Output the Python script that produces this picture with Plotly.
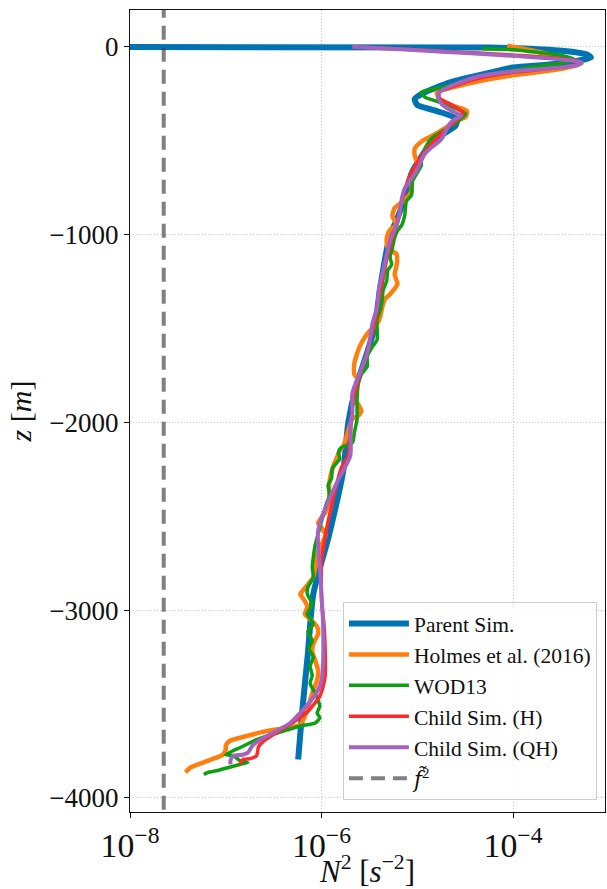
import plotly.graph_objects as go

# Buoyancy frequency profiles N^2(z)
parent_n2 = [1e-12, 5.6e-5, 3.0e-4, 5.9e-4, 6.5e-4, 4.3e-4, 2.4e-4, 1.0e-4, 4.8e-5, 2.2e-5,
             1.2e-5, 9.4e-6, 1.0e-5, 1.6e-5, 2.6e-5, 2.5e-5, 1.7e-5, 1.2e-5, 8.7e-6, 7.4e-6,
             6.1e-6, 5.2e-6, 4.1e-6, 3.6e-6, 2.9e-6, 2.3e-6, 1.9e-6, 1.7e-6, 1.2e-6, 8.2e-7,
             7.2e-7, 6.3e-7, 5.7e-7]
parent_z = [0, -5, -21, -42, -58, -79, -95, -111, -148, -190,
            -243, -279, -311, -343, -385, -422, -480, -559, -675, -807,
            -923, -1002, -1281, -1492, -1650, -1808, -2003, -2246, -2599, -2915,
            -3232, -3532, -3796]

holmes_n2 = [8.7e-5, 2.5e-4, 4.1e-4, 5.2e-4, 3.0e-4, 1.0e-4, 4.4e-5, 2.4e-5, 1.6e-5, 1.7e-5,
             2.4e-5, 3.3e-5, 3.2e-5, 2.6e-5, 1.7e-5, 1.1e-5, 9.4e-6, 9.4e-6, 1.0e-5, 8.7e-6,
             8.7e-6, 7.4e-6, 5.8e-6, 5.5e-6, 6.1e-6, 5.2e-6, 4.8e-6, 4.9e-6, 6.1e-6, 6.1e-6,
             5.8e-6, 6.2e-6, 5.2e-6, 4.6e-6, 4.3e-6, 4.1e-6, 3.8e-6, 3.0e-6, 2.5e-6, 2.2e-6,
             2.2e-6, 2.4e-6, 2.1e-6, 2.4e-6, 2.6e-6, 2.4e-6, 2.1e-6, 1.7e-6, 1.6e-6, 1.3e-6,
             1.2e-6, 1.2e-6, 1.1e-6, 9.2e-7, 1.0e-6, 1.1e-6, 1.0e-6, 9.0e-7, 8.6e-7, 8.2e-7,
             7.2e-7, 6.3e-7, 6.0e-7, 6.7e-7, 7.1e-7, 6.7e-7, 8.0e-7, 9.0e-7, 9.2e-7, 8.2e-7,
             8.0e-7, 8.6e-7, 9.2e-7, 9.0e-7, 8.2e-7, 7.6e-7, 7.1e-7, 6.0e-7, 4.4e-7, 2.7e-7,
             1.7e-7, 1.1e-7, 1.0e-7, 1.0e-7, 9.3e-8, 7.0e-8, 5.1e-8, 4.3e-8, 3.8e-8]
holmes_z = [5, -42, -69, -90, -121, -153, -185, -216, -243, -279,
            -316, -343, -374, -395, -453, -506, -543, -580, -622, -717,
            -770, -817, -859, -902, -949, -975, -1017, -1070, -1107, -1160,
            -1213, -1265, -1318, -1344, -1387, -1439, -1476, -1529, -1597, -1687,
            -1745, -1771, -1877, -1903, -1940, -1966, -1982, -2125, -2140, -2246,
            -2335, -2425, -2478, -2536, -2562, -2599, -2652, -2705, -2773, -2826,
            -2863, -2900, -2915, -2952, -2984, -3021, -3058, -3089, -3126, -3179,
            -3221, -3269, -3321, -3374, -3427, -3480, -3532, -3611, -3627, -3643,
            -3669, -3696, -3722, -3743, -3770, -3796, -3822, -3838, -3864]

wod_n2 = [4.8e-5, 1.0e-4, 1.9e-4, 3.2e-4, 4.4e-4, 3.0e-4, 1.5e-4, 4.4e-5, 1.9e-5, 1.1e-5,
          1.2e-5, 1.7e-5, 2.6e-5, 3.2e-5, 2.6e-5, 2.0e-5, 1.4e-5, 1.2e-5, 1.1e-5, 1.1e-5,
          8.9e-6, 8.7e-6, 7.7e-6, 7.4e-6, 6.9e-6, 6.2e-6, 5.8e-6, 5.5e-6, 5.2e-6, 5.4e-6,
          4.9e-6, 4.8e-6, 4.4e-6, 4.3e-6, 4.1e-6, 3.8e-6, 3.8e-6, 3.4e-6, 3.0e-6, 3.0e-6,
          2.5e-6, 2.4e-6, 2.35e-6, 2.35e-6, 2.35e-6, 2.2e-6, 2.1e-6, 1.6e-6, 1.5e-6, 1.55e-6,
          1.3e-6, 1.27e-6, 1.17e-6, 1.22e-6, 1.14e-6, 1.04e-6, 9.6e-7, 8.6e-7, 8.2e-7, 8.0e-7,
          8.2e-7, 7.2e-7, 7.1e-7, 8.0e-7, 7.1e-7, 8.2e-7, 7.2e-7, 8.0e-7, 7.4e-7, 8.2e-7,
          7.6e-7, 8.0e-7, 7.6e-7, 8.6e-7, 9.2e-7, 9.6e-7, 9.0e-7, 9.6e-7, 8.6e-7, 6.0e-7,
          4.4e-7, 3.5e-7, 2.7e-7, 2.1e-7, 1.8e-7, 1.4e-7, 1.2e-7, 1.0e-7, 1.2e-7, 1.4e-7,
          1.7e-7, 1.4e-7, 1.07e-7, 8.2e-8, 6.5e-8, 5.9e-8]
wod_z = [-11, -16, -32, -47, -69, -90, -111, -163, -216, -243,
         -269, -295, -332, -358, -401, -438, -490, -543, -596, -633,
         -717, -791, -822, -896, -949, -981, -1017, -1070, -1123, -1160,
         -1191, -1244, -1297, -1350, -1402, -1455, -1561, -1597, -1650, -1703,
         -1756, -1808, -1877, -1930, -1982, -2056, -2109, -2135, -2162, -2193,
         -2246, -2299, -2335, -2388, -2425, -2494, -2562, -2652, -2720, -2773,
         -2826, -2878, -2915, -2968, -3021, -3074, -3116, -3163, -3205, -3248,
         -3300, -3348, -3390, -3443, -3480, -3511, -3548, -3574, -3601, -3617,
         -3638, -3654, -3670, -3690, -3706, -3733, -3748, -3770, -3775, -3801,
         -3812, -3822, -3838, -3854, -3864, -3875]

child_h_n2 = [2.1e-6, 4.9e-4, 4.3e-4, 1.0e-4, 4.4e-5, 2.4e-5, 1.7e-5, 1.7e-5, 2.4e-5, 3.0e-5,
              2.6e-5, 2.0e-5, 1.5e-5, 1.1e-5, 8.3e-6, 7.0e-6, 6.2e-6, 5.3e-6, 4.6e-6, 4.1e-6,
              3.6e-6, 3.0e-6, 2.4e-6, 2.1e-6, 2.0e-6, 1.9e-6, 1.6e-6, 1.3e-6, 1.1e-6, 1.0e-6,
              1.0e-6, 1.06e-6, 1.09e-6, 1.09e-6, 1.04e-6, 9.6e-7, 7.1e-7, 5.1e-7, 3.5e-7, 2.5e-7,
              2.2e-7, 2.1e-7, 1.8e-7, 1.5e-7, 1.4e-7]
child_h_z = [0, -79, -100, -137, -169, -211, -243, -274, -316, -353,
             -390, -438, -501, -585, -691, -807, -938, -1044, -1176, -1307,
             -1466, -1624, -1782, -1914, -2072, -2177, -2246, -2425, -2599, -2741,
             -2952, -3074, -3205, -3353, -3406, -3458, -3543, -3596, -3648, -3696,
             -3727, -3775, -3791, -3796, -3822]

child_qh_n2 = [2.1e-6, 5.2e-4, 4.6e-4, 3.0e-4, 1.0e-4, 4.4e-5, 3.0e-5, 2.2e-5, 1.7e-5, 1.65e-5,
               1.8e-5, 2.3e-5, 2.9e-5, 2.4e-5, 2.1e-5, 1.8e-5, 1.2e-5, 9.8e-6, 7.4e-6, 6.9e-6,
               6.5e-6, 6.1e-6, 5.2e-6, 4.8e-6, 4.4e-6, 4.0e-6, 3.8e-6, 3.4e-6, 3.2e-6, 3.0e-6,
               2.5e-6, 2.1e-6, 2.1e-6, 2.0e-6, 2.0e-6, 1.45e-6, 1.17e-6, 1.0e-6, 9.2e-7, 9.2e-7,
               9.6e-7, 1.0e-6, 1.04e-6, 1.04e-6, 1.0e-6, 9.2e-7, 7.1e-7, 6.1e-7, 4.7e-7, 3.1e-7,
               2.3e-7, 1.9e-7, 1.7e-7, 1.5e-7, 1.2e-7, 1.12e-7, 1.12e-7]
child_qh_z = [0, -84, -100, -111, -132, -158, -185, -211, -243, -269,
              -306, -343, -369, -390, -422, -490, -569, -664, -754, -807,
              -896, -949, -1033, -1107, -1191, -1281, -1387, -1476, -1561, -1634,
              -1740, -1845, -1951, -2019, -2177, -2320, -2425, -2509, -2583, -2652,
              -2773, -2915, -3089, -3269, -3374, -3427, -3506, -3543, -3601, -3654,
              -3690, -3722, -3759, -3770, -3775, -3801, -3822]

# Squared (effective) Coriolis frequency
f2_tilde = 2.25e-8

series = [
    ("Parent Sim.", parent_n2, parent_z, "#0173b2", 6),
    ("Holmes et al. (2016)", holmes_n2, holmes_z, "#ff7f0e", 4.5),
    ("WOD13", wod_n2, wod_z, "#0ca010", 3.5),
    ("Child Sim. (H)", child_h_n2, child_h_z, "#ff2a2a", 3.5),
    ("Child Sim. (QH)", child_qh_n2, child_qh_z, "#a463bf", 4),
]

SERIF = "Liberation Serif, DejaVu Serif, serif"

fig = go.Figure()
for i, (name, n2, z, color, lw) in enumerate(series):
    fig.add_trace(go.Scatter(
        x=n2, y=z, mode="lines", name=name, legendgroup=f"g{i}",
        line=dict(color=color, width=lw, shape="spline", smoothing=0.6),
    ))

fig.add_trace(go.Scatter(
    x=[f2_tilde, f2_tilde], y=[-5000, 1000], mode="lines",
    name="<span style='font-family:DejaVu Serif'><i>f\u0303</i></span><sup>2</sup>",
    legendgroup="g5",
    line=dict(color="rgba(60,60,60,0.65)", width=4, dash="14px,8px"),
))

axis_common = dict(
    showline=True, linecolor="#111", linewidth=1.2, mirror=True,
    ticks="outside", ticklen=5, tickwidth=1.2, tickcolor="#111",
    showgrid=True, gridcolor="#c4c4c4", griddash="1px,2px", gridwidth=1,
    zeroline=False,
    tickfont=dict(family=SERIF, size=27, color="#111"),
)

fig.update_layout(
    width=607, height=889,
    margin=dict(l=130, r=1, t=10, b=69),
    paper_bgcolor="white", plot_bgcolor="white",
    font=dict(family=SERIF, color="#111"),
    xaxis=dict(
        type="log", range=[-8, -3.04], dtick=2, exponentformat="power",
        title=dict(text="<i>N</i><sup>2</sup> [<i>s</i><sup>\u22122</sup>]",
                   font=dict(family=SERIF, size=31), standoff=2),
        **axis_common,
    ),
    yaxis=dict(
        range=[-4075, 195], tickvals=[0, -1000, -2000, -3000, -4000],
        title=dict(text="<i>z</i> [<i>m</i>]", font=dict(family=SERIF, size=30),
                   standoff=8),
        **axis_common,
    ),
    legend=dict(
        x=0.983, y=0.015, xanchor="right", yanchor="bottom",
        bgcolor="rgba(255,255,255,0.85)", bordercolor="#cccccc", borderwidth=1,
        font=dict(family=SERIF, size=21.5, color="#111"),
        traceorder="grouped", tracegroupgap=0, itemwidth=60,
    ),
    showlegend=True,
)

fig.write_html("out.html")
